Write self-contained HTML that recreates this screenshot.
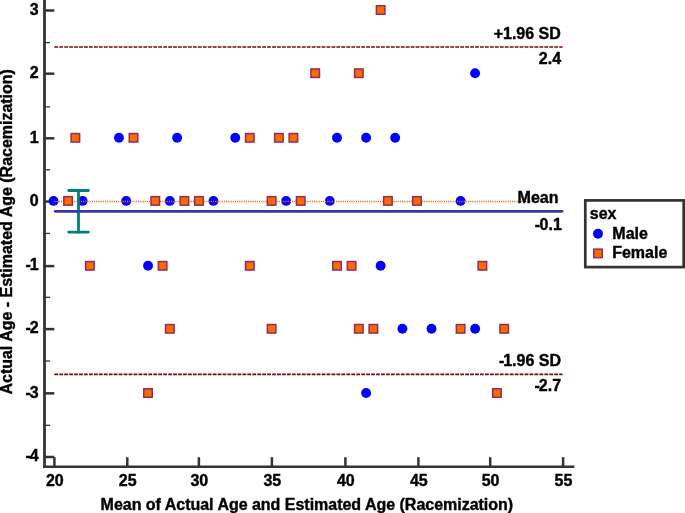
<!DOCTYPE html>
<html lang="en"><head><meta charset="utf-8"><title>Bland-Altman plot</title>
<style>
html,body{margin:0;padding:0;background:#fff;}
body{width:685px;height:513px;overflow:hidden;}
svg{display:block;}
text{font-family:"Liberation Sans",Arial,Helvetica,sans-serif;font-weight:bold;fill:#000;stroke:#000;stroke-width:0.4px;stroke-linejoin:round;}
</style></head><body>
<svg width="685" height="513" viewBox="0 0 685 513">
<rect x="0" y="0" width="685" height="513" fill="#ffffff"/>
<g stroke="#333333" fill="none">
<path d="M44.5 0V467" stroke-width="2.8"/>
<path d="M43.1 466.7H574.3" stroke-width="2.5"/>
<path d="M45 457.00H54.3" stroke-width="2.5"/>
<path d="M45 393.35H54.3" stroke-width="2.5"/>
<path d="M45 329.10H54.3" stroke-width="2.5"/>
<path d="M45 266.10H54.3" stroke-width="2.5"/>
<path d="M45 201.55H54.3" stroke-width="2.5"/>
<path d="M45 138.30H54.3" stroke-width="2.5"/>
<path d="M45 73.70H54.3" stroke-width="2.5"/>
<path d="M45 10.50H54.3" stroke-width="2.5"/>
<path d="M45 42.60H50.1" stroke-width="1.3"/>
<path d="M45 106.85H50.1" stroke-width="1.3"/>
<path d="M45 169.80H50.1" stroke-width="1.3"/>
<path d="M45 233.45H50.1" stroke-width="1.3"/>
<path d="M45 297.30H50.1" stroke-width="1.3"/>
<path d="M45 361.00H50.1" stroke-width="1.3"/>
<path d="M45 425.30H50.1" stroke-width="1.3"/>
<path d="M54.40 457.2V466" stroke-width="2.5"/>
<path d="M127.30 457.2V466" stroke-width="2.5"/>
<path d="M198.90 457.2V466" stroke-width="2.5"/>
<path d="M271.90 457.2V466" stroke-width="2.5"/>
<path d="M345.40 457.2V466" stroke-width="2.5"/>
<path d="M418.40 457.2V466" stroke-width="2.5"/>
<path d="M490.20 457.2V466" stroke-width="2.5"/>
<path d="M563.10 457.2V466" stroke-width="2.5"/>
</g>
<g font-size="16" text-anchor="end">
<text x="38.6" y="461.30">-<tspan dx="-1.2">4</tspan></text>
<text x="38.6" y="397.65">-<tspan dx="-1.2">3</tspan></text>
<text x="38.6" y="333.40">-<tspan dx="-1.2">2</tspan></text>
<text x="38.6" y="270.40">-<tspan dx="-1.2">1</tspan></text>
<text x="38.6" y="205.85">0</text>
<text x="38.6" y="142.60">1</text>
<text x="38.6" y="78.00">2</text>
<text x="38.6" y="14.80">3</text>
</g>
<g font-size="16" text-anchor="middle">
<text x="54.80" y="485.5">20</text>
<text x="127.70" y="485.5">25</text>
<text x="199.30" y="485.5">30</text>
<text x="272.30" y="485.5">35</text>
<text x="345.80" y="485.5">40</text>
<text x="418.80" y="485.5">45</text>
<text x="490.60" y="485.5">50</text>
<text x="563.50" y="485.5">55</text>
</g>
<text x="100.6" y="509.6" font-size="16" textLength="412.5" lengthAdjust="spacing">Mean of Actual Age and Estimated Age (Racemization)</text>
<text transform="translate(11.7 394.5) rotate(-90)" font-size="16" textLength="325.4" lengthAdjust="spacing">Actual Age - Estimated Age (Racemization)</text>
<g fill="#0000ff">
<circle cx="475.12" cy="73.20" r="4.95"/>
<circle cx="118.97" cy="137.80" r="4.95"/>
<circle cx="177.11" cy="137.80" r="4.95"/>
<circle cx="235.26" cy="137.80" r="4.95"/>
<circle cx="337.02" cy="137.80" r="4.95"/>
<circle cx="366.10" cy="137.80" r="4.95"/>
<circle cx="395.17" cy="137.80" r="4.95"/>
<circle cx="53.55" cy="200.90" r="4.95"/>
<circle cx="82.62" cy="200.90" r="4.95"/>
<circle cx="126.24" cy="200.90" r="4.95"/>
<circle cx="169.85" cy="200.90" r="4.95"/>
<circle cx="213.46" cy="200.90" r="4.95"/>
<circle cx="286.14" cy="200.90" r="4.95"/>
<circle cx="329.75" cy="200.90" r="4.95"/>
<circle cx="460.59" cy="200.90" r="4.95"/>
<circle cx="148.04" cy="265.80" r="4.95"/>
<circle cx="380.63" cy="265.80" r="4.95"/>
<circle cx="402.44" cy="328.80" r="4.95"/>
<circle cx="431.51" cy="328.80" r="4.95"/>
<circle cx="475.12" cy="328.80" r="4.95"/>
<circle cx="366.10" cy="393.05" r="4.95"/>
</g>
<path d="M54.3 47.0H562.6" stroke="#7d0808" stroke-width="1.7" stroke-dasharray="3.85 1.1" fill="none"/>
<path d="M54.3 374.35H562.6" stroke="#7d0808" stroke-width="1.7" stroke-dasharray="3.85 1.1" fill="none"/>
<path d="M54.4 201.5H534" stroke="#e5751a" stroke-width="1.5" stroke-dasharray="1.2 1" fill="none"/>
<g fill="#ff6a00" stroke="#8f2d5c" stroke-width="1.5">
<rect x="376.38" y="5.75" width="8.5" height="8.5"/>
<rect x="310.97" y="68.95" width="8.5" height="8.5"/>
<rect x="354.58" y="68.95" width="8.5" height="8.5"/>
<rect x="71.11" y="133.55" width="8.5" height="8.5"/>
<rect x="129.25" y="133.55" width="8.5" height="8.5"/>
<rect x="245.55" y="133.55" width="8.5" height="8.5"/>
<rect x="274.62" y="133.55" width="8.5" height="8.5"/>
<rect x="289.16" y="133.55" width="8.5" height="8.5"/>
<rect x="63.84" y="196.65" width="8.5" height="8.5"/>
<rect x="151.06" y="196.65" width="8.5" height="8.5"/>
<rect x="180.13" y="196.65" width="8.5" height="8.5"/>
<rect x="194.67" y="196.65" width="8.5" height="8.5"/>
<rect x="267.35" y="196.65" width="8.5" height="8.5"/>
<rect x="296.43" y="196.65" width="8.5" height="8.5"/>
<rect x="383.65" y="196.65" width="8.5" height="8.5"/>
<rect x="412.72" y="196.65" width="8.5" height="8.5"/>
<rect x="85.64" y="261.55" width="8.5" height="8.5"/>
<rect x="158.33" y="261.55" width="8.5" height="8.5"/>
<rect x="245.55" y="261.55" width="8.5" height="8.5"/>
<rect x="332.77" y="261.55" width="8.5" height="8.5"/>
<rect x="347.31" y="261.55" width="8.5" height="8.5"/>
<rect x="478.14" y="261.55" width="8.5" height="8.5"/>
<rect x="165.60" y="324.55" width="8.5" height="8.5"/>
<rect x="267.35" y="324.55" width="8.5" height="8.5"/>
<rect x="354.58" y="324.55" width="8.5" height="8.5"/>
<rect x="369.11" y="324.55" width="8.5" height="8.5"/>
<rect x="456.34" y="324.55" width="8.5" height="8.5"/>
<rect x="499.95" y="324.55" width="8.5" height="8.5"/>
<rect x="143.79" y="388.80" width="8.5" height="8.5"/>
<rect x="492.68" y="388.80" width="8.5" height="8.5"/>
</g>
<g stroke="#007d7d" stroke-width="2.8" stroke-linecap="round" fill="none">
<path d="M78.5 190.5V232.1"/><path d="M68.7 190.5H88.4"/><path d="M68.7 232.1H88.4"/>
</g>
<path d="M55.2 211.3H562" stroke="#3838a0" stroke-width="2.8" stroke-linecap="round" fill="none"/>
<g font-size="16" text-anchor="end">
<text x="560.8" y="39.1">+1.96 SD</text>
<text x="561.1" y="63.7">2.4</text>
<text x="558.5" y="203.2">Mean</text>
<text x="561.8" y="229.6">-<tspan dx="-0.6">0.1</tspan></text>
<text x="561" y="366.4">-<tspan dx="-1.2">1.96 SD</tspan></text>
<text x="561.1" y="391">-<tspan dx="-1">2.7</tspan></text>
</g>
<rect x="585.3" y="200.4" width="98.4" height="66.7" fill="#fff" stroke="#333333" stroke-width="2.7"/>
<g font-size="16">
<text x="589.8" y="218.6">sex</text>
<text x="612.3" y="238.6">Male</text>
<text x="612.2" y="257.8">Female</text>
</g>
<circle cx="598" cy="233.8" r="4.95" fill="#0000ff"/>
<rect x="593.75" y="249.15" width="8.5" height="8.5" fill="#ff6a00" stroke="#8f2d5c" stroke-width="1.5"/>
</svg>
</body></html>
